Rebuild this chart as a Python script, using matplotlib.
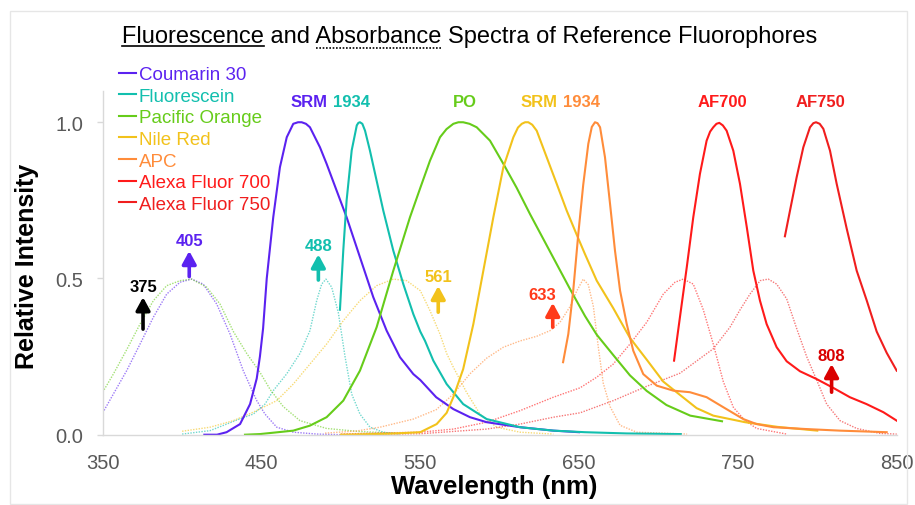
import matplotlib
matplotlib.use("Agg")
import matplotlib.pyplot as plt
from matplotlib.lines import Line2D
from matplotlib.patches import Rectangle

plt.rcParams["font.family"] = ["Liberation Sans", "DejaVu Sans"]

W, H = 915, 506

# ---- emission spectra (solid) ----
c30_em_nm = [414, 422, 428, 436.5, 442.8, 447, 449, 451, 453.3, 457.4, 461.6, 465.9, 470, 473,
             475.3, 478, 480.5, 486.8, 491, 497.4, 503.6, 512, 520.4, 528.8, 537.2, 545.6, 550, 560,
             570.8, 581.3, 591.8, 612.8, 633.8, 650]
c30_em_val = [0.0, 0.0, 0.008, 0.034, 0.098, 0.18, 0.25, 0.34, 0.5, 0.696, 0.856, 0.952, 0.995, 1.0,
              1.0, 0.995, 0.984, 0.92, 0.867, 0.78, 0.696, 0.568, 0.44, 0.333, 0.248, 0.194, 0.175,
              0.12, 0.082, 0.056, 0.04, 0.024, 0.013, 0.008]

fl_em_nm = [499.4, 501.5, 503.6, 506.8, 510, 511, 512, 513.5, 515.2, 518.3, 522.5, 526.7, 533,
            539.3, 545.6, 550, 553, 558.2, 566.6, 577, 591.8, 612.8, 633.8, 653.7, 680, 714]
fl_em_val = [0.40, 0.59, 0.75, 0.91, 0.99, 0.998, 1.0, 0.995, 0.973, 0.909, 0.813, 0.717, 0.589,
             0.482, 0.386, 0.33, 0.30, 0.237, 0.162, 0.098, 0.05, 0.024, 0.013, 0.008, 0.004, 0.002]

po_em_nm = [439.6, 449, 470, 480.5, 491, 501.5, 512, 522.5, 533, 543.5, 550, 556.1, 562.4, 566.5,
            570.8, 574, 577, 581, 585.5, 593.9, 602.3, 610.7, 619.1, 627.5, 635.9, 644.3, 653.7,
            661.1, 671.5, 682, 692.6, 705, 720, 740]
po_em_val = [0.0, 0.002, 0.013, 0.029, 0.056, 0.109, 0.205, 0.344, 0.525, 0.696, 0.79, 0.877, 0.952,
             0.978, 0.995, 1.0, 1.0, 0.995, 0.984, 0.941, 0.867, 0.79, 0.706, 0.626, 0.546, 0.466,
             0.38, 0.32, 0.255, 0.19, 0.14, 0.095, 0.061, 0.043]

nr_em_nm = [500, 530, 550, 560.3, 566.6, 570.8, 577, 583.4, 589.7, 596, 602.3, 608.6, 611.5, 613.9,
            616, 618, 620.5, 623.3, 629.6, 635.9, 642.2, 648.5, 653.7, 661.1, 671.5, 682, 692.6,
            703, 713.6, 724, 734.5, 754.5, 775, 800]
nr_em_val = [0.0, 0.003, 0.008, 0.034, 0.07, 0.12, 0.21, 0.354, 0.525, 0.696, 0.856, 0.952, 0.983,
             0.995, 1.0, 1.0, 0.992, 0.973, 0.888, 0.803, 0.717, 0.64, 0.578, 0.493, 0.405, 0.31,
             0.24, 0.17, 0.127, 0.085, 0.061, 0.04, 0.025, 0.013]

apc_em_nm = [639.9, 643.2, 646.3, 649.5, 652.6, 655.8, 658, 660, 661.6, 663.2, 666.3, 669.5, 672.6,
             675.8, 680, 684.1, 690.4, 698.9, 709.3, 719.8, 730.3, 740.8, 753.4, 761.8, 772.3,
             793.3, 814.3, 843.7]
apc_em_val = [0.232, 0.322, 0.461, 0.643, 0.80, 0.931, 0.985, 1.0, 0.997, 0.984, 0.888, 0.738, 0.589,
              0.461, 0.354, 0.269, 0.194, 0.157, 0.141, 0.136, 0.12, 0.088, 0.05, 0.034, 0.024,
              0.018, 0.013, 0.008]

af700_em_nm = [709.8, 713.5, 717.8, 721.9, 726.1, 730.3, 732.5, 734.5, 736.5, 738.3, 740.5, 742.9,
               747.1, 751.3, 755.6, 759.7, 763.9, 768.1, 774.4, 780.7, 789.1, 799.6, 810, 820.5,
               831, 841.6, 850]
af700_em_val = [0.237, 0.376, 0.536, 0.696, 0.835, 0.941, 0.97, 0.984, 0.995, 0.998, 0.99, 0.973,
                0.909, 0.803, 0.664, 0.525, 0.429, 0.354, 0.28, 0.235, 0.203, 0.178, 0.15, 0.12,
                0.098, 0.072, 0.045]

af750_em_nm = [779.6, 782.8, 787, 791.2, 795.4, 797.5, 799.2, 801.5, 803.8, 808, 812.2, 818.5,
               824.8, 831.1, 837.4, 843.7, 850]
af750_em_val = [0.635, 0.717, 0.824, 0.92, 0.984, 0.997, 1.0, 0.995, 0.979, 0.909, 0.803, 0.66,
                0.525, 0.43, 0.33, 0.262, 0.205]

# ---- absorbance spectra (dotted) ----
c30_ab_nm = [350, 356.7, 365.1, 373.5, 381.9, 390.3, 398.7, 406, 413.3, 421.8, 430.2, 438.5, 447,
             452.2, 459.6, 470, 485, 500]
c30_ab_val = [0.07, 0.13, 0.205, 0.29, 0.376, 0.45, 0.488, 0.498, 0.482, 0.418, 0.322, 0.205, 0.109,
              0.066, 0.024, 0.008, 0.002, 0.0]

po_ab_nm = [350, 356.7, 365.1, 373.5, 381.9, 390.3, 398.7, 406, 415.5, 423.9, 432.3, 440.7, 449,
            455.4, 463.7, 474.2, 491, 512, 540]
po_ab_val = [0.136, 0.194, 0.272, 0.354, 0.429, 0.477, 0.493, 0.498, 0.472, 0.418, 0.33, 0.26, 0.2,
             0.145, 0.09, 0.045, 0.02, 0.01, 0.004]

fl_ab_nm = [400, 417.6, 436, 444.8, 452.2, 457.4, 465.9, 474.2, 480.5, 484.8, 487.9, 490.6, 494.2,
            498.4, 502.6, 506.8, 512, 518.3, 526.7, 537.2]
fl_ab_val = [0.002, 0.013, 0.05, 0.066, 0.098, 0.141, 0.195, 0.26, 0.333, 0.43, 0.482, 0.498, 0.472,
             0.39, 0.25, 0.13, 0.066, 0.024, 0.008, 0.002]

nr_ab_nm = [400, 417.6, 432.3, 444.8, 459.6, 470, 480.5, 491, 501.5, 512, 522.5, 533, 541.4, 550,
            556.1, 562.4, 566.6, 570.8, 579.2, 587.6, 598.1, 612.8, 633.8]
nr_ab_val = [0.011, 0.024, 0.045, 0.072, 0.109, 0.162, 0.226, 0.29, 0.365, 0.429, 0.477, 0.498,
             0.493, 0.461, 0.397, 0.322, 0.26, 0.216, 0.135, 0.066, 0.024, 0.008, 0.002]

apc_ab_nm = [490, 510, 524.6, 545.6, 560, 570.8, 581.3, 591.8, 602.3, 612.8, 623.3, 631.7, 638,
             644.3, 648.5, 652.6, 655.8, 659, 662.1, 665.2, 669.5, 675.8, 686.3, 718]
apc_ab_val = [0.005, 0.012, 0.024, 0.05, 0.08, 0.13, 0.195, 0.245, 0.28, 0.3, 0.315, 0.333, 0.36,
              0.41, 0.46, 0.498, 0.48, 0.41, 0.28, 0.165, 0.09, 0.03, 0.008, 0.002]

af700_ab_nm = [500, 520, 549.8, 570.8, 591.8, 612.8, 633.8, 650.6, 661.1, 671.5, 682, 692.6, 703,
               710.4, 715.6, 721.9, 728.2, 734.5, 740.8, 747.1, 754.5, 761.8, 780.7]
af700_ab_val = [0.002, 0.005, 0.008, 0.018, 0.04, 0.077, 0.12, 0.15, 0.184, 0.226, 0.29, 0.36, 0.45,
                0.488, 0.498, 0.482, 0.4, 0.29, 0.17, 0.088, 0.045, 0.02, 0.002]

af750_ab_nm = [500, 549.8, 591.8, 612.8, 633.8, 650.6, 671.5, 692.6, 713.6, 734.5, 745, 751.4,
               757.6, 764, 769.1, 774.4, 780.7, 787, 793.3, 799.6, 805.9, 814.3, 824.8, 839.5, 850]
af750_ab_val = [0.0, 0.003, 0.018, 0.034, 0.056, 0.07, 0.109, 0.155, 0.197, 0.275, 0.344, 0.4,
                0.45, 0.493, 0.498, 0.482, 0.435, 0.34, 0.25, 0.175, 0.098, 0.045, 0.02, 0.004,
                0.002]

names = ["Coumarin 30", "Fluorescein", "Pacific Orange", "Nile Red", "APC",
         "Alexa Fluor 700", "Alexa Fluor 750"]
colors = ["#5B22F0", "#12BFAE", "#66CC1A", "#F2C21B", "#FF8C3A", "#FF1A1A", "#F01E1E"]
emission = [(c30_em_nm, c30_em_val), (fl_em_nm, fl_em_val), (po_em_nm, po_em_val),
            (nr_em_nm, nr_em_val), (apc_em_nm, apc_em_val), (af700_em_nm, af700_em_val),
            (af750_em_nm, af750_em_val)]
absorbance = [(c30_ab_nm, c30_ab_val), (fl_ab_nm, fl_ab_val), (po_ab_nm, po_ab_val),
              (nr_ab_nm, nr_ab_val), (apc_ab_nm, apc_ab_val), (af700_ab_nm, af700_ab_val),
              (af750_ab_nm, af750_ab_val)]

# laser lines: wavelength, label, colour, text position, arrow tail / tip
lasers_nm = [375.4, 404.5, 485.8, 561.3, 633.4, 809]
lasers_label = ["375", "405", "488", "561", "633", "808"]
lasers_color = ["#000000", "#5B22F0", "#12BFAE", "#F2C21B", "#FF3A1A", "#D90000"]
lasers_text_x = [375.4, 404.5, 485.8, 561.3, 627, 809]
lasers_text_y = [0.474, 0.621, 0.605, 0.506, 0.45, 0.253]
lasers_tail = [0.338, 0.506, 0.495, 0.392, 0.344, 0.136]
lasers_tip = [0.44, 0.588, 0.577, 0.476, 0.422, 0.226]

fig = plt.figure(figsize=(W / 100, H / 100), dpi=100)
ax = fig.add_axes([102.7 / W, 1 - 435.7 / H, 794 / W, 343.7 / H])

for (x, y), c in zip(absorbance, colors):
    ax.plot(x, y, color=c, lw=1.0, ls=(0, (1, 1)), alpha=0.6)

em_lines = []
for (x, y), c, n in zip(emission, colors, names):
    ln, = ax.plot(x, y, color=c, lw=1.5, label=n)
    em_lines.append(ln)

for i in range(len(lasers_nm)):
    c = lasers_color[i]
    ax.annotate("", xy=(lasers_nm[i], lasers_tip[i]), xytext=(lasers_nm[i], lasers_tail[i]),
                arrowprops=dict(arrowstyle="-|>,head_width=0.3,head_length=0.55", lw=2.6,
                                color=c, shrinkA=0, shrinkB=0, mutation_scale=14))
    ax.text(lasers_text_x[i], lasers_text_y[i], lasers_label[i], color=c, fontsize=12,
            fontweight="bold", ha="center", va="center")

# peak labels
ax.text(491.7, 1.066, "SRM", color=colors[0], fontsize=12, fontweight="bold", ha="right", va="center")
ax.text(495.2, 1.066, "1934", color=colors[1], fontsize=12, fontweight="bold", ha="left", va="center")
ax.text(578, 1.066, "PO", color=colors[2], fontsize=12, fontweight="bold", ha="center", va="center")
ax.text(636.3, 1.066, "SRM", color=colors[3], fontsize=12, fontweight="bold", ha="right", va="center")
ax.text(640, 1.066, "1934", color=colors[4], fontsize=12, fontweight="bold", ha="left", va="center")
ax.text(740, 1.066, "AF700", color=colors[5], fontsize=12, fontweight="bold", ha="center", va="center")
ax.text(802, 1.066, "AF750", color=colors[6], fontsize=12, fontweight="bold", ha="center", va="center")

ax.set_xlim(350, 850)
ax.set_ylim(0, 1.1)
ax.set_xticks([350, 450, 550, 650, 750, 850])
ax.set_yticks([0.0, 0.5, 1.0])
ax.set_yticklabels(["0.0", "0.5", "1.0"])
ax.tick_params(axis="x", length=0, pad=13, labelsize=14.5, labelcolor="#595959")
ax.tick_params(axis="y", length=4, width=1, color="#D9D9D9", pad=10, labelsize=14.5,
               labelcolor="#595959")
for s in ["top", "right"]:
    ax.spines[s].set_visible(False)
for s in ["left", "bottom"]:
    ax.spines[s].set_color("#D9D9D9")
    ax.spines[s].set_linewidth(1)
ax.patch.set_alpha(0)

leg = ax.legend(handles=em_lines, loc="upper left", bbox_to_anchor=(119 / W, 1 - 67 / H),
                bbox_transform=fig.transFigure, frameon=False, fontsize=13.5,
                handlelength=0.9, handletextpad=0.15, labelspacing=0.24, borderpad=0,
                borderaxespad=0, labelcolor="linecolor")

fig.text(494 / W, 1 - 487 / H, "Wavelength (nm)", fontsize=18.5, fontweight="bold",
         ha="center", va="center")
fig.text(27 / W, 1 - 266 / H, "Relative Intensity", fontsize=18, fontweight="bold",
         ha="center", va="center", rotation=90)

# title with underlined words
title = "Fluorescence and Absorbance Spectra of Reference Fluorophores"
base_y = 1 - 43 / H
t = fig.text(469.5 / W, base_y, title, fontsize=17, ha="center", va="baseline")
renderer = fig.canvas.get_renderer()
bb = t.get_window_extent(renderer)
prop = t.get_fontproperties()


def text_w(s):
    return renderer.get_text_width_height_descent(s, prop, ismath=False)[0]


x_fl0 = bb.x0
x_fl1 = bb.x0 + text_w("Fluorescence")
x_ab0 = bb.x0 + text_w("Fluorescence and ")
x_ab1 = x_ab0 + text_w("Absorbance")
uy = base_y * H - 4
fig.add_artist(Line2D([x_fl0 / W, x_fl1 / W], [uy / H, uy / H], transform=fig.transFigure,
                      color="black", lw=1.2))
fig.add_artist(Line2D([x_ab0 / W, x_ab1 / W], [(uy - 1.5) / H, (uy - 1.5) / H],
                      transform=fig.transFigure, color="black", lw=1.2, ls=(0, (1, 1))))

# thin frame around the figure
fig.add_artist(Rectangle((10 / W, 1 - 505 / H), 897 / W, 493 / H, transform=fig.transFigure,
                         fill=False, ec="#E6E6E6", lw=1))

fig.savefig("out.png", dpi=100)
